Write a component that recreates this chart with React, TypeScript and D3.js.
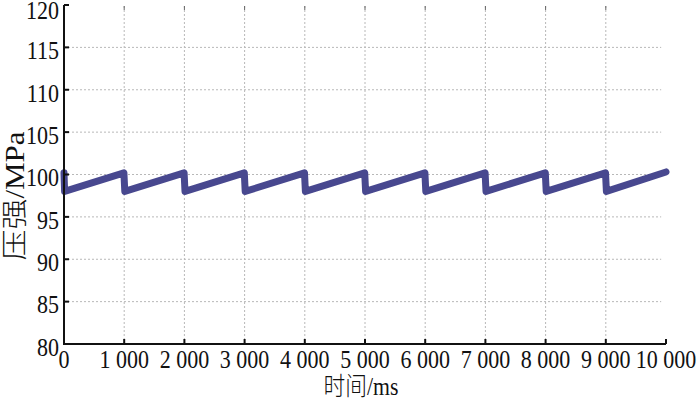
import React from "react";
import * as d3 from "d3";

const timeMs = [0, 10, 995, 1010, 1995, 2010, 2995, 3010, 3995, 4010, 4995, 5010, 5995, 6010, 6995, 7010, 7995, 8010, 8995, 9010, 10000];
const pressure = [100.2, 98.0, 100.2, 98.0, 100.2, 98.0, 100.2, 98.0, 100.2, 98.0, 100.2, 98.0, 100.2, 98.0, 100.2, 98.0, 100.2, 98.0, 100.2, 98.0, 100.3];
const xTicks = [0, 1000, 2000, 3000, 4000, 5000, 6000, 7000, 8000, 9000, 10000];
const xTickLabels = ["0", "1 000", "2 000", "3 000", "4 000", "5 000", "6 000", "7 000", "8 000", "9 000", "10 000"];
const yTicks = [80, 85, 90, 95, 100, 105, 110, 115, 120];

export default function App() {
  const W = 700, H = 400;
  const x = d3.scaleLinear().domain([0, 10000]).range([64, 666]);
  const y = d3.scaleLinear().domain([80, 120]).range([344, 5]);
  const pts = timeMs.map((t, i) => [t, pressure[i]] as [number, number]);
  const line = d3.line<[number, number]>().x(d => x(d[0])).y(d => y(d[1]));
  const font = "'Liberation Serif', 'Times New Roman', 'Noto Sans CJK SC', serif";
  const sx = 0.88;
  return (
    <svg width={W} height={H} style={{ position: "absolute", left: 0, top: 0, background: "#fff" }}>
      {yTicks.filter(v => v > 80 && v < 120).map(v => (
        <line key={"gy" + v} x1={x(0)} x2={x(9920)} y1={y(v)} y2={y(v)} stroke="#b8b8b8" strokeWidth={1} strokeDasharray="2,2" />
      ))}
      {xTicks.filter(v => v > 0 && v < 10000).map(v => (
        <g key={"gx" + v}>
          <line x1={x(v)} x2={x(v)} y1={y(120) + 1} y2={y(80)} stroke="#b8b8b8" strokeWidth={1} strokeDasharray="2,2" />
          <line x1={x(v)} x2={x(v)} y1={y(120) + 1} y2={y(120) + 5} stroke="#666" strokeWidth={1} />
        </g>
      ))}
      <path d={line(pts) || ""} fill="none" stroke="#48488f" strokeWidth={7} strokeLinejoin="round" strokeLinecap="round" />
      <line x1={x(0)} x2={x(0)} y1={y(120)} y2={y(80) + 1} stroke="#111" strokeWidth={2} />
      <line x1={x(0) - 1} x2={x(10000)} y1={y(80)} y2={y(80)} stroke="#111" strokeWidth={2} />
      {yTicks.map(v => (
        <g key={"ty" + v}>
          <line x1={x(0)} x2={x(0) + 5} y1={y(v)} y2={y(v)} stroke="#111" strokeWidth={2} />
          <text transform={`translate(${x(0) - 5},${y(v) + (v === 120 ? 5 : 3)}) scale(${sx},1)`} dy="0.35em" textAnchor="end" fontFamily={font} fontSize={25} fill="#111">{v}</text>
        </g>
      ))}
      <line x1={x(10000)} x2={x(10000)} y1={y(80)} y2={y(80) - 5} stroke="#111" strokeWidth={2} />
      {xTicks.map((v, i) => (
        <g key={"tx" + v}>
          <line x1={x(v)} x2={x(v)} y1={y(80)} y2={y(80) - 5} stroke="#111" strokeWidth={2} />
          <text transform={`translate(${x(v)},368) scale(${sx},1)`} textAnchor="middle" fontFamily={font} fontSize={25} fill="#111">{xTickLabels[i]}</text>
        </g>
      ))}
      <text transform={`translate(361,395) scale(0.87,1)`} textAnchor="middle" fontFamily={font} fontSize={25} fontWeight={300} fill="#111">时间/ms</text>
      <text transform={`translate(24,196) rotate(-90) scale(1,0.85)`} textAnchor="middle" fontFamily={font} fontSize={31} fontWeight={300} fill="#111">压强/MPa</text>
    </svg>
  );
}
